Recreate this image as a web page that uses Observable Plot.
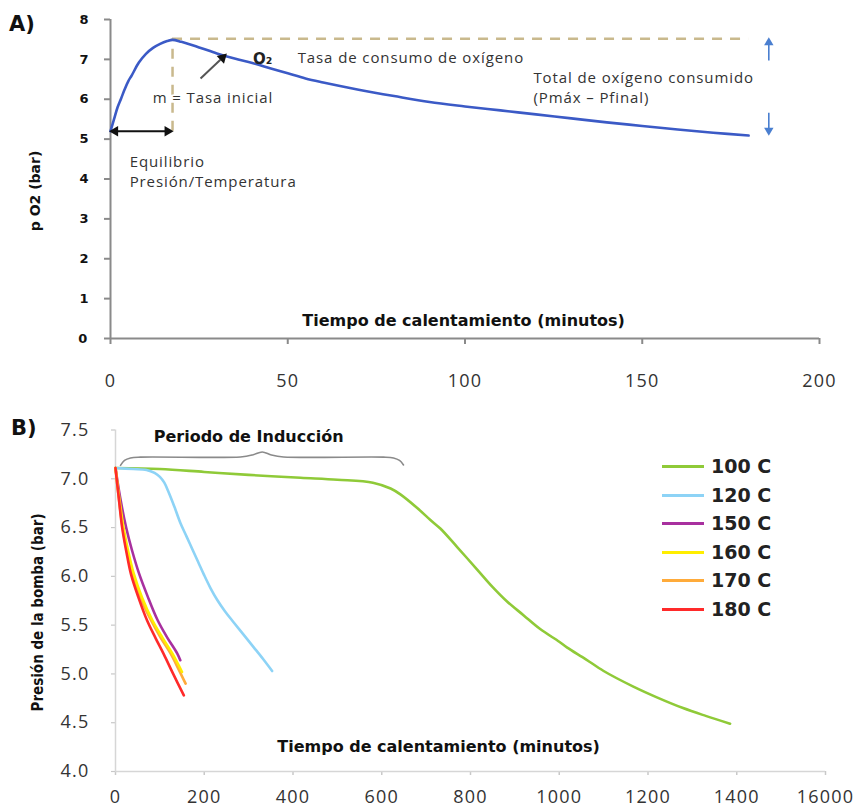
<!DOCTYPE html>
<html>
<head>
<meta charset="utf-8">
<script src="https://cdn.jsdelivr.net/npm/d3@7"></script>
<script src="https://cdn.jsdelivr.net/npm/@observablehq/plot@0.6"></script>
<style>
  html, body { margin: 0; padding: 0; background: #fff; }
  body { width: 857px; height: 807px; position: relative; overflow: hidden; font-family: "Open Sans", sans-serif; }
  #a, #b { position: absolute; left: 0; }
  #a { top: 0; }
  #b { top: 400px; }
  .panel { position: absolute; font: bold 21px "DejaVu Sans", sans-serif; color: #111; }
  #legend { position: absolute; left: 662px; top: 452px; }
  .row { position: relative; height: 28.5px; width: 120px; }
  .swatch { position: absolute; left: 0; top: 13px; width: 42px; height: 3px; }
  .lab { position: absolute; left: 49px; top: 0; font: bold 19px "DejaVu Sans", sans-serif; color: #222; line-height: 28px; white-space: nowrap; }
</style>
</head>
<body>
<div id="a"></div>
<div id="b"></div>
<div class="panel" style="left:9px;top:12px;">A)</div>
<div class="panel" style="left:11px;top:416px;">B)</div>
<div id="legend"></div>
<script>
// ---------- Panel A data ----------
const timeA = [0,1,2,3,4,5,6,8,10,12,14,16,17.5,20,25,30,35,40,45,50,55,60,70,80,90,100,110,120,130,140,150,160,170,180];
const pO2A  = [5.2,5.5,5.8,6.02,6.25,6.45,6.6,6.92,7.14,7.29,7.39,7.46,7.49,7.44,7.3,7.15,7.02,6.91,6.78,6.65,6.52,6.42,6.24,6.08,5.93,5.82,5.72,5.62,5.52,5.42,5.33,5.24,5.16,5.09];
const xTicksA = [0,50,100,150,200];
const yTicksA = [0,1,2,3,4,5,6,7,8];
const tPeak = 17.5, pPeak = 7.52, tFinal = 180, pInit = 5.2;

const labelsA = [
  {t: 52.8, p: 7.02, text: "Tasa de consumo de oxígeno"},
  {t: 119.3, p: 6.52, text: "Total de oxígeno consumido"},
  {t: 119.3, p: 6.02, text: "(Pmáx – Pfinal)"},
  {t: 5.4, p: 4.41, text: "Equilibrio"},
  {t: 5.4, p: 3.93, text: "Presión/Temperatura"}
];
const labelM = [{t: 11.9, p: 6.02, text: "m = Tasa inicial"}];

// ---------- Panel B data ----------
const temps = ["100 C","120 C","150 C","160 C","170 C","180 C"];
const colorsB = ["#8fca38","#8dd3f6","#a8309f","#ffee00","#ffab3a","#ff2a2a"];
const t100 = [0,100,200,300,417,500,580,620,642,680,709,732,770,815,850,883,920,957,1000,1018,1060,1100,1167,1220,1279,1330,1385];
const p100 = [7.11,7.10,7.07,7.04,7.01,6.99,6.96,6.90,6.84,6.70,6.58,6.49,6.30,6.07,5.89,5.74,5.60,5.46,5.33,5.27,5.15,5.03,4.87,4.76,4.65,4.57,4.49];
const t120 = [0,40,70,88,100,110,120,133,146,160,176,188,199,214,229,247,266,289,312,333,353];
const p120 = [7.11,7.10,7.09,7.06,7.02,6.96,6.86,6.71,6.55,6.41,6.25,6.13,6.02,5.88,5.76,5.64,5.53,5.40,5.27,5.15,5.03];
const t150 = [0,10,24,37,53,72,95,117,139,146];
const p150 = [7.11,6.82,6.5,6.27,6.03,5.8,5.55,5.37,5.21,5.14];
const t160 = [0,8,18,29,41,60,83,106,128,150];
const p160 = [7.11,6.82,6.5,6.25,6.03,5.78,5.55,5.37,5.21,5.02];
const t170 = [0,7,16,26,37,56,80,102,124,142,158];
const p170 = [7.11,6.82,6.5,6.25,6.03,5.78,5.55,5.37,5.21,5.05,4.9];
const t180 = [0,7,15,25,35,52,71,90,109,130,154];
const p180 = [7.11,6.82,6.5,6.24,6.02,5.78,5.55,5.37,5.2,5.0,4.78];
const xTicksB = [0,200,400,600,800,1000,1200,1400,1600];
const xTickLabelsB = ["0","200","400","600","800","1000","1200","1400","16000"];
const yTicksB = [4,4.5,5,5.5,6,6.5,7,7.5];
const braceT = [11.3,20.3,33.8,56.3,281.7,308.7,330.6,351.5,378.6,603.9,626.5,640,649];
const braceP = [7.137,7.188,7.213,7.222,7.224,7.244,7.275,7.244,7.224,7.222,7.213,7.188,7.142];

// ---------- Panel A ----------
const curveA = timeA.map((t, i) => ({t, p: pO2A[i]}));
const gridGray = "#8a8a8a";
const tan = "#c9b98d";
const blueArrow = "#4a7fd0";

const plotA = Plot.plot({
  width: 857, height: 400,
  marginLeft: 110, marginRight: 38, marginTop: 19, marginBottom: 62,
  x: {domain: [0, 200]},
  y: {domain: [0, 8]},
  style: {fontFamily: "Open Sans", fontSize: "18px", color: "#333", background: "white", overflow: "visible"},
  marks: [
    Plot.axisX({ticks: xTicksA, tickSize: 6, tickPadding: 30, stroke: gridGray, strokeWidth: 2, fill: "#333",
                fontSize: 18, fontFamily: "Open Sans", label: null}),
    Plot.axisY({ticks: yTicksA, tickSize: 6, tickPadding: 16, stroke: gridGray, strokeWidth: 2, fill: "#111",
                fontSize: 13, fontWeight: "bold", fontFamily: "DejaVu Sans", label: null}),
    Plot.ruleY([0], {stroke: gridGray, strokeWidth: 2}),
    Plot.ruleX([0], {stroke: gridGray, strokeWidth: 2}),
    // dashed guides
    Plot.ruleY([pPeak], {x1: tPeak, x2: tFinal, stroke: tan, strokeWidth: 2.5, strokeDasharray: "10,8"}),
    Plot.ruleX([tPeak], {y1: pInit, y2: pPeak, stroke: tan, strokeWidth: 2.5, strokeDasharray: "10,8"}),
    // main curve
    Plot.line(curveA, {x: "t", y: "p", stroke: "#3b5ac6", strokeWidth: 2.6, curve: "catmull-rom"}),
    // double arrow (equilibrium)
    Plot.link([{x1: 0.8, x2: tPeak - 1, y: pInit}], {x1: "x1", x2: "x2", y1: "y", y2: "y", stroke: "#111", strokeWidth: 2}),
    Plot.dot([{x: 1.3, y: pInit, r: -90}, {x: tPeak - 1.4, y: pInit, r: 90}],
             {x: "x", y: "y", rotate: "r", symbol: "triangle2", r: 5, fill: "#111", stroke: "none"}),
    // diagonal arrow
    Plot.link([{x1: 25.4, y1: 6.52, x2: 31.0, y2: 6.99}], {x1: "x1", y1: "y1", x2: "x2", y2: "y2", stroke: "#555", strokeWidth: 2}),
    Plot.dot([{x: 31.6, y: 7.04, r: 46}], {x: "x", y: "y", rotate: "r", symbol: "triangle2", r: 5, fill: "#111", stroke: "none"}),
    // blue arrows
    Plot.link([{x: 185.7, y1: 6.97, y2: 7.36}, {x: 185.7, y1: 5.66, y2: 5.27}], {x1: "x", x2: "x", y1: "y1", y2: "y2", stroke: blueArrow, strokeWidth: 1.6}),
    Plot.dot([{x: 185.7, y: 7.42, r: 0}, {x: 185.7, y: 5.22, r: 180}], {x: "x", y: "y", rotate: "r", symbol: "triangle2", r: 4.5, fill: blueArrow, stroke: "none"}),
    // labels
    Plot.text(labelsA, {x: "t", y: "p", text: "text", textAnchor: "start", lineAnchor: "middle",
                        fontFamily: "Open Sans", fontSize: 15, fill: "#333"}),
    Plot.text(labelM, {x: "t", y: "p", text: "text", textAnchor: "start", lineAnchor: "middle",
                        fontFamily: "Open Sans", fontSize: 15, fill: "#333", stroke: "white", strokeWidth: 3}),
    Plot.text(["O₂"], {x: 42.9, y: 7.0, text: d => d, fontFamily: "DejaVu Sans", fontWeight: "bold", fontSize: 15, fill: "#222"}),
    Plot.text(["Tiempo de calentamiento (minutos)"], {x: 99.6, y: 0.43, text: d => d, fontFamily: "DejaVu Sans",
                        fontWeight: "bold", fontSize: 16, fill: "#111"}),
    Plot.text(["p O2 (bar)"], {y: 3.7, frameAnchor: "left", dx: -75, rotate: -90, textAnchor: "middle", text: d => d,
                        fontFamily: "DejaVu Sans", fontWeight: "bold", fontSize: 14, fill: "#111"})
  ]
});
document.getElementById("a").appendChild(plotA);

// ---------- Panel B ----------
const seriesT = [t100, t120, t150, t160, t170, t180];
const seriesP = [p100, p120, p150, p160, p170, p180];
const tableB = temps.flatMap((s, i) => seriesT[i].map((t, j) => ({series: s, t, p: seriesP[i][j]})));
const drawOrder = [0, 1, 2, 4, 3, 5];
const brace = braceT.map((t, i) => ({t, p: braceP[i]}));
const axisGrayB = "#d6d6d6";

const plotB = Plot.plot({
  width: 857, height: 407,
  marginLeft: 115, marginRight: 32, marginTop: 29.5, marginBottom: 36,
  x: {domain: [0, 1600]},
  y: {domain: [4, 7.5]},
  style: {fontFamily: "Open Sans", fontSize: "18px", color: "#333", background: "white", overflow: "visible"},
  marks: [
    Plot.axisX({ticks: xTicksB, tickFormat: d => xTickLabelsB[xTicksB.indexOf(d)], tickSize: 4, tickPadding: 15,
                stroke: "#c8c8c8", strokeWidth: 1.5, fill: "#333", fontSize: 18, fontFamily: "Open Sans", label: null}),
    Plot.axisY({ticks: yTicksB, tickFormat: d3.format(".1f"), tickSize: 4, tickPadding: 22,
                stroke: "#c8c8c8", strokeWidth: 1.2, fill: "#333", fontSize: 18, fontFamily: "Open Sans", label: null}),
    Plot.ruleY([4], {stroke: axisGrayB, strokeWidth: 1.5}),
    Plot.ruleX([0], {stroke: axisGrayB, strokeWidth: 1.5}),
    ...drawOrder.map(i => Plot.line(tableB.filter(d => d.series === temps[i]),
        {x: "t", y: "p", stroke: colorsB[i], strokeWidth: 2.6, curve: "catmull-rom"})),
    Plot.line(brace, {x: "t", y: "p", stroke: "#8a8a8a", strokeWidth: 1.6, curve: "catmull-rom"}),
    Plot.text(["Periodo de Inducción"], {x: 300, y: 7.43, text: d => d, fontFamily: "DejaVu Sans",
                        fontWeight: "bold", fontSize: 16, fill: "#111"}),
    Plot.text(["Tiempo de calentamiento (minutos)"], {x: 728, y: 4.254, text: d => d, fontFamily: "DejaVu Sans",
                        fontWeight: "bold", fontSize: 16, fill: "#111"}),
    Plot.text(["Presión de la bomba (bar)"], {y: 5.63, frameAnchor: "left", dx: -77, rotate: -90, textAnchor: "middle", text: d => d,
                        fontFamily: "Liberation Sans Narrow, DejaVu Sans Condensed, sans-serif", fontWeight: "bold", fontSize: 15, fill: "#111"})
  ]
});
document.getElementById("b").appendChild(plotB);

// letter spacing (the reference's regular text is set wide)
const annotTexts = labelsA.concat(labelM).map(d => d.text);
d3.select(plotA).selectAll("text").each(function() {
  if (annotTexts.includes(this.textContent)) this.setAttribute("letter-spacing", "0.9");
});
const tickTexts = xTicksA.map(String).concat(xTickLabelsB, yTicksB.map(d3.format(".1f")));
[plotA, plotB].forEach(svg => d3.select(svg).selectAll("text").each(function() {
  if (tickTexts.includes(this.textContent) && this.getAttribute("font-weight") !== "bold"
      && !(svg === plotA && yTicksA.map(String).includes(this.textContent) && !xTicksA.map(String).includes(this.textContent))) {
    this.setAttribute("letter-spacing", "1.2");
  }
}));

// ---------- Legend ----------
const legend = document.getElementById("legend");
temps.forEach((s, i) => {
  const row = document.createElement("div");
  row.className = "row";
  const sw = document.createElement("div");
  sw.className = "swatch";
  sw.style.background = colorsB[i];
  const lab = document.createElement("div");
  lab.className = "lab";
  lab.textContent = s;
  row.appendChild(sw); row.appendChild(lab);
  legend.appendChild(row);
});
</script>
</body>
</html>
